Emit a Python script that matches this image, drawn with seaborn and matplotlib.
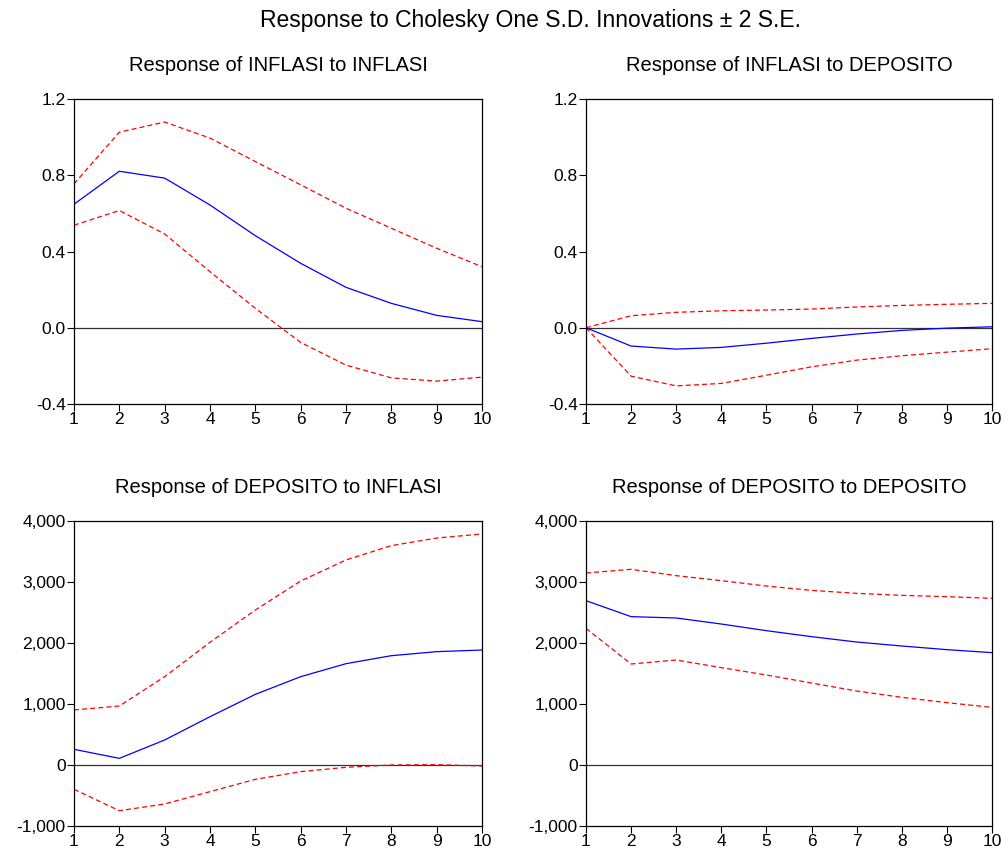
import numpy as np
import pandas as pd
import matplotlib
matplotlib.use("Agg")
import matplotlib.pyplot as plt
import seaborn as sns
from matplotlib.ticker import FuncFormatter

sns.set_theme(style="white")
plt.rcParams['font.family'] = ['Liberation Sans', 'DejaVu Sans']
plt.rcParams['text.color'] = 'black'
plt.rcParams['axes.titlecolor'] = 'black'
plt.rcParams['xtick.color'] = 'black'
plt.rcParams['ytick.color'] = 'black'
plt.rcParams['xtick.labelcolor'] = 'black'
plt.rcParams['ytick.labelcolor'] = 'black'

periods = list(range(1, 11))

# Response of INFLASI to INFLASI
inf_inf = [0.648, 0.821, 0.785, 0.644, 0.483, 0.338, 0.212, 0.128, 0.065, 0.032]
inf_inf_up = [0.755, 1.026, 1.079, 0.995, 0.872, 0.750, 0.627, 0.522, 0.417, 0.320]
inf_inf_lo = [0.538, 0.615, 0.492, 0.294, 0.102, -0.077, -0.196, -0.263, -0.280, -0.259]

# Response of INFLASI to DEPOSITO
inf_dep = [0.0, -0.096, -0.112, -0.103, -0.081, -0.056, -0.033, -0.014, -0.002, 0.005]
inf_dep_up = [0.0, 0.063, 0.081, 0.089, 0.093, 0.098, 0.109, 0.117, 0.123, 0.128]
inf_dep_lo = [0.0, -0.254, -0.305, -0.292, -0.249, -0.205, -0.170, -0.147, -0.128, -0.110]

# Response of DEPOSITO to INFLASI
dep_inf = [257, 109, 410, 792, 1158, 1448, 1661, 1792, 1858, 1885]
dep_inf_up = [902, 967, 1448, 2011, 2541, 3016, 3361, 3596, 3721, 3787]
dep_inf_lo = [-399, -749, -639, -437, -235, -109, -38, 0, 5, -16]

# Response of DEPOSITO to DEPOSITO
dep_dep = [2694, 2432, 2410, 2311, 2202, 2104, 2016, 1951, 1891, 1842]
dep_dep_up = [3148, 3208, 3104, 3022, 2934, 2863, 2814, 2781, 2760, 2732]
dep_dep_lo = [2240, 1656, 1721, 1596, 1475, 1344, 1213, 1109, 1022, 945]

titles = ["Response of INFLASI to INFLASI", "Response of INFLASI to DEPOSITO",
          "Response of DEPOSITO to INFLASI", "Response of DEPOSITO to DEPOSITO"]
suptitle = "Response to Cholesky One S.D. Innovations \u00b1 2 S.E."

small_ticks = [-0.4, 0.0, 0.4, 0.8, 1.2]
big_ticks = [-1000, 0, 1000, 2000, 3000, 4000]

panels = [
    (inf_inf, inf_inf_up, inf_inf_lo, small_ticks),
    (inf_dep, inf_dep_up, inf_dep_lo, small_ticks),
    (dep_inf, dep_inf_up, dep_inf_lo, big_ticks),
    (dep_dep, dep_dep_up, dep_dep_lo, big_ticks),
]

W, H = 1008, 856
fig = plt.figure(figsize=(W / 100, H / 100), dpi=100)
boxes = [(74, 99, 482, 404), (586, 99, 992, 404), (74, 521, 482, 826), (586, 521, 992, 826)]

for (resp, up, lo, yt), title, (l, t, r, b) in zip(panels, titles, boxes):
    ax = fig.add_axes([l / W, 1 - b / H, (r - l) / W, (b - t) / H])
    df = pd.DataFrame({"period": periods, "resp": resp, "up": up, "lo": lo})
    ax.axhline(0, color="#333333", lw=0.9, zorder=1)
    sns.lineplot(data=df, x="period", y="up", ax=ax, color="#ff0000", lw=0.9,
                 linestyle=(0, (4, 2.5)))
    sns.lineplot(data=df, x="period", y="lo", ax=ax, color="#ff0000", lw=0.9,
                 linestyle=(0, (4, 2.5)))
    sns.lineplot(data=df, x="period", y="resp", ax=ax, color="#0000ff", lw=0.9)
    ax.set_xlim(1, 10)
    ax.set_ylim(yt[0], yt[-1])
    ax.set_xticks(periods)
    ax.set_yticks(yt)
    if yt is small_ticks:
        ax.yaxis.set_major_formatter(FuncFormatter(lambda v, p: f"{v:.1f}"))
    else:
        ax.yaxis.set_major_formatter(FuncFormatter(lambda v, p: f"{v:,.0f}"))
    ax.set_xlabel("")
    ax.set_ylabel("")
    ax.set_title(title, fontsize=14.5, pad=20, color="black")
    for s in ax.spines.values():
        s.set_color("black")
        s.set_linewidth(0.9)
    ax.tick_params(axis="both", which="both", direction="out", length=5, width=0.8,
                   colors="black", labelcolor="black", labelsize=12.5, pad=1,
                   bottom=True, left=True, top=False, right=False)

fig.text(530 / W, 1 - 20 / H, suptitle, ha="center", va="center", fontsize=16.5,
         color="black")
fig.savefig("out.png", dpi=100, facecolor="white")
